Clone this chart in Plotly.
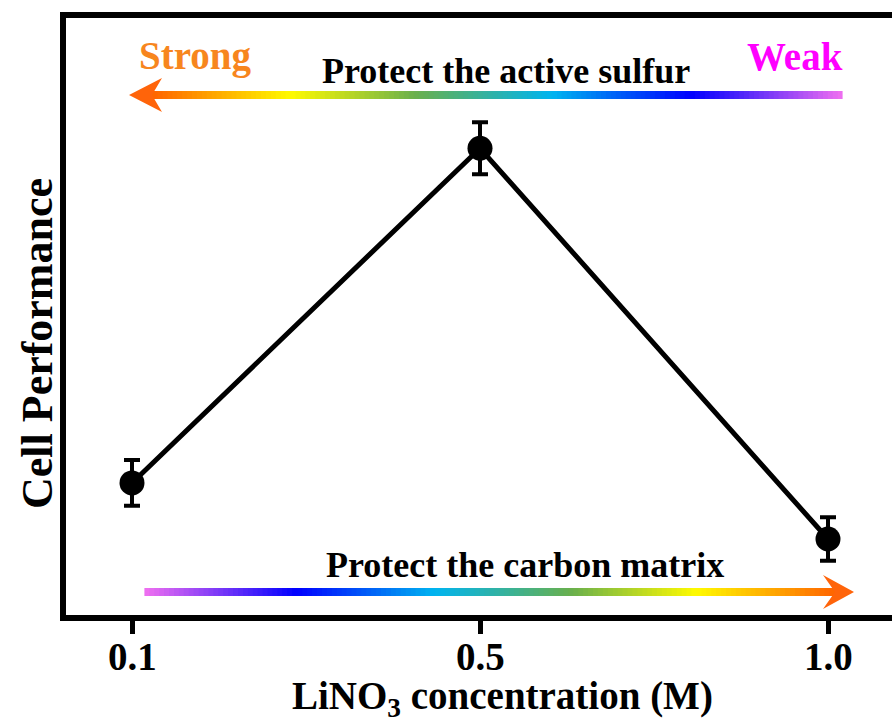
import plotly.graph_objects as go

# ---- data ----
concentrations = ["0.1", "0.5", "1.0"]
performance = [2.24, 7.79, 1.31]
perf_error = [0.38, 0.43, 0.36]

top_label = "Protect the active sulfur"
bottom_label = "Protect the carbon matrix"
strong_label = "Strong"
weak_label = "Weak"
x_title = "LiNO<sub>3</sub> concentration (M)"
y_title = "Cell Performance"

# ---- layout geometry (pixels) ----
W, H = 892, 723
ML, MR, MT, MB = 63, 0, 15, 105
PW, PH = W - ML - MR, H - MT - MB
SP = 348.0  # pixels per category
x0 = -69 / SP
x1 = x0 + PW / SP

def px(x):
    return (x - ML) / PW

def py(y):
    return (H - MB - y) / PH

FONT = "Liberation Serif"

stops = [(0.0, (240, 112, 240)), (0.22, (0, 0, 255)), (0.42, (0, 180, 240)),
         (0.62, (106, 176, 76)), (0.80, (255, 250, 0)), (1.0, (255, 100, 0))]

def color_at(t):
    for (a, ca), (b, cb) in zip(stops[:-1], stops[1:]):
        if a <= t <= b:
            f = (t - a) / (b - a) if b > a else 0
            c = [round(ca[i] + (cb[i] - ca[i]) * f) for i in range(3)]
            return "rgb(%d,%d,%d)" % tuple(c)
    return "rgb(%d,%d,%d)" % stops[-1][1]

shapes = []

def gradient_arrow(tail_x, notch_x, tip_x, back_x, y, thick=8, half=17, n=140):
    for i in range(n):
        t0 = i / n
        t1 = (i + 1) / n
        xa = tail_x + (notch_x - tail_x) * t0
        xb = tail_x + (notch_x - tail_x) * t1
        lo, hi = min(xa, xb) - 0.6, max(xa, xb) + 0.6
        shapes.append(dict(type="rect", xref="paper", yref="paper",
                           x0=px(lo), x1=px(hi), y0=py(y + thick / 2), y1=py(y - thick / 2),
                           fillcolor=color_at((t0 + t1) / 2), line=dict(width=0), layer="below"))
    path = "M %f,%f L %f,%f L %f,%f L %f,%f Z" % (
        px(tip_x), py(y), px(back_x), py(y - half), px(notch_x), py(y), px(back_x), py(y + half))
    shapes.append(dict(type="path", xref="paper", yref="paper", path=path,
                       fillcolor="rgb(255,100,10)", line=dict(width=0), layer="below"))

gradient_arrow(842, 152, 129, 162, 95)
gradient_arrow(145, 835, 854, 823, 592)

# frame (left, top, bottom)
shapes.append(dict(type="path", xref="paper", yref="paper",
                   path="M %f,0 L 0,0 L 0,1 L %f,1" % (1.05, 1.05),
                   line=dict(color="black", width=6)))

annotations = [
    dict(text=strong_label, x=px(195), y=py(56), font=dict(color="#F7861E", size=39)),
    dict(text=weak_label, x=px(795), y=py(56), font=dict(color="#FF00FF", size=39)),
    dict(text=top_label, x=px(506), y=py(71), font=dict(color="black", size=36)),
    dict(text=bottom_label, x=px(525), y=py(565), font=dict(color="black", size=36)),
    dict(text=x_title, x=px(502), y=py(698), font=dict(color="black", size=39)),
    dict(text=y_title, x=px(37), y=py(344), textangle=-90, font=dict(color="black", size=44)),
]
for a in annotations:
    a.update(xref="paper", yref="paper")
# tick labels placed on the category axis (by category index)
for i, c in enumerate(concentrations):
    annotations.append(dict(text=c, x=i, xref="x", y=py(656), yref="paper",
                            font=dict(color="black", size=39)))
for a in annotations:
    a.update(showarrow=False, xanchor="center", yanchor="middle")
    a["font"].update(family=FONT, weight="bold")

fig = go.Figure(go.Scatter(
    x=concentrations, y=performance, mode="lines+markers",
    line=dict(color="black", width=5),
    marker=dict(color="black", size=25),
    error_y=dict(type="data", array=perf_error, color="black", thickness=4, width=8),
))

fig.update_layout(
    width=W, height=H, margin=dict(l=ML, r=MR, t=MT, b=MB),
    paper_bgcolor="white", plot_bgcolor="white", showlegend=False,
    shapes=shapes, annotations=annotations,
    xaxis=dict(type="category", range=[x0, x1], showgrid=False, zeroline=False,
               ticks="outside", ticklen=15, tickwidth=5, tickcolor="black",
               showticklabels=False),
    yaxis=dict(range=[0, 10], showgrid=False, zeroline=False, showticklabels=False, ticks=""),
)

fig.write_html("out.html")
